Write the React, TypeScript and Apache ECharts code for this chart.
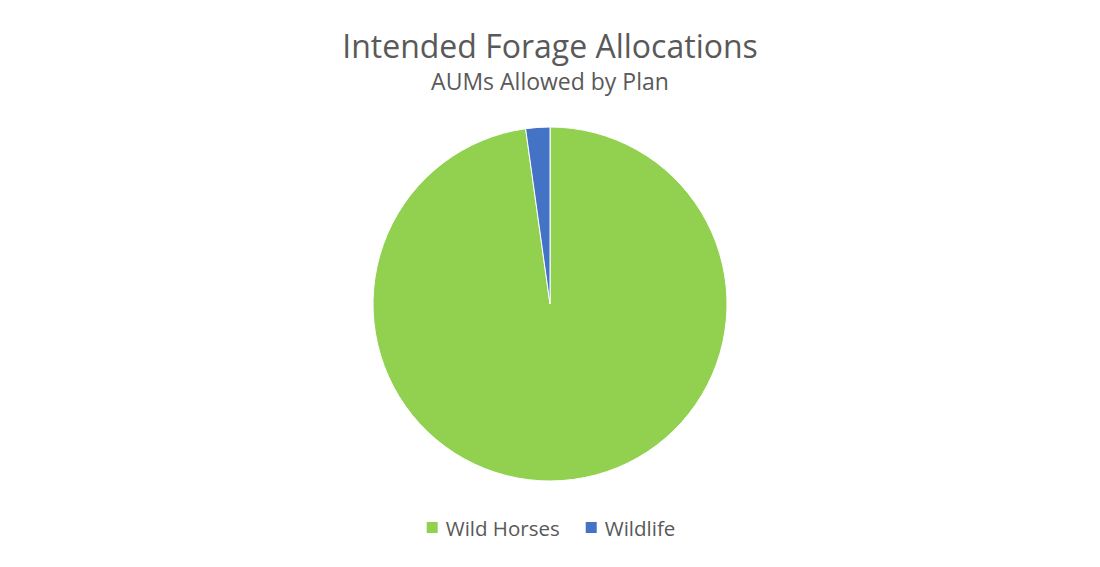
import React, { useEffect, useRef } from 'react'
import * as echarts from 'echarts'

const categories = ['Wild Horses', 'Wildlife']
const values = [9780, 220]
const colors = ['#92D050', '#4472C4']

const titleText = 'Intended Forage Allocations'
const subtitleText = 'AUMs Allowed by Plan'

const App: React.FC = () => {
  const chartRef = useRef<HTMLDivElement>(null)

  useEffect(() => {
    if (!chartRef.current) return
    const chart = echarts.init(chartRef.current, undefined, { renderer: 'svg' })

    const option: echarts.EChartsOption = {
      animation: false,
      backgroundColor: '#ffffff',
      title: {
        text: titleText,
        subtext: subtitleText,
        left: 'center',
        top: 24,
        itemGap: 8,
        textStyle: {
          fontFamily: 'Open Sans',
          fontSize: 32,
          fontWeight: 'normal',
          color: '#595959'
        },
        subtextStyle: {
          fontFamily: 'Open Sans',
          fontSize: 23,
          color: '#595959'
        }
      },
      legend: {
        bottom: 24,
        left: 'center',
        itemWidth: 13,
        itemHeight: 13,
        itemGap: 24,
        icon: 'rect',
        textStyle: {
          fontFamily: 'Open Sans',
          fontSize: 20.5,
          color: '#595959',
          padding: [0, 0, 0, 2]
        },
        data: categories
      },
      series: [
        {
          type: 'pie',
          center: [550, 304],
          radius: 177,
          startAngle: 90,
          clockwise: true,
          label: { show: false },
          labelLine: { show: false },
          itemStyle: { borderColor: '#ffffff', borderWidth: 1 },
          emphasis: { disabled: true },
          data: categories.map((name, i) => ({
            name,
            value: values[i],
            itemStyle: { color: colors[i] }
          }))
        }
      ]
    }

    chart.setOption(option)

    return () => {
      chart.dispose()
    }
  }, [])

  return (
    <div
      ref={chartRef}
      style={{ position: 'fixed', left: 0, top: 0, width: 1100, height: 567 }}
    />
  )
}

export default App
